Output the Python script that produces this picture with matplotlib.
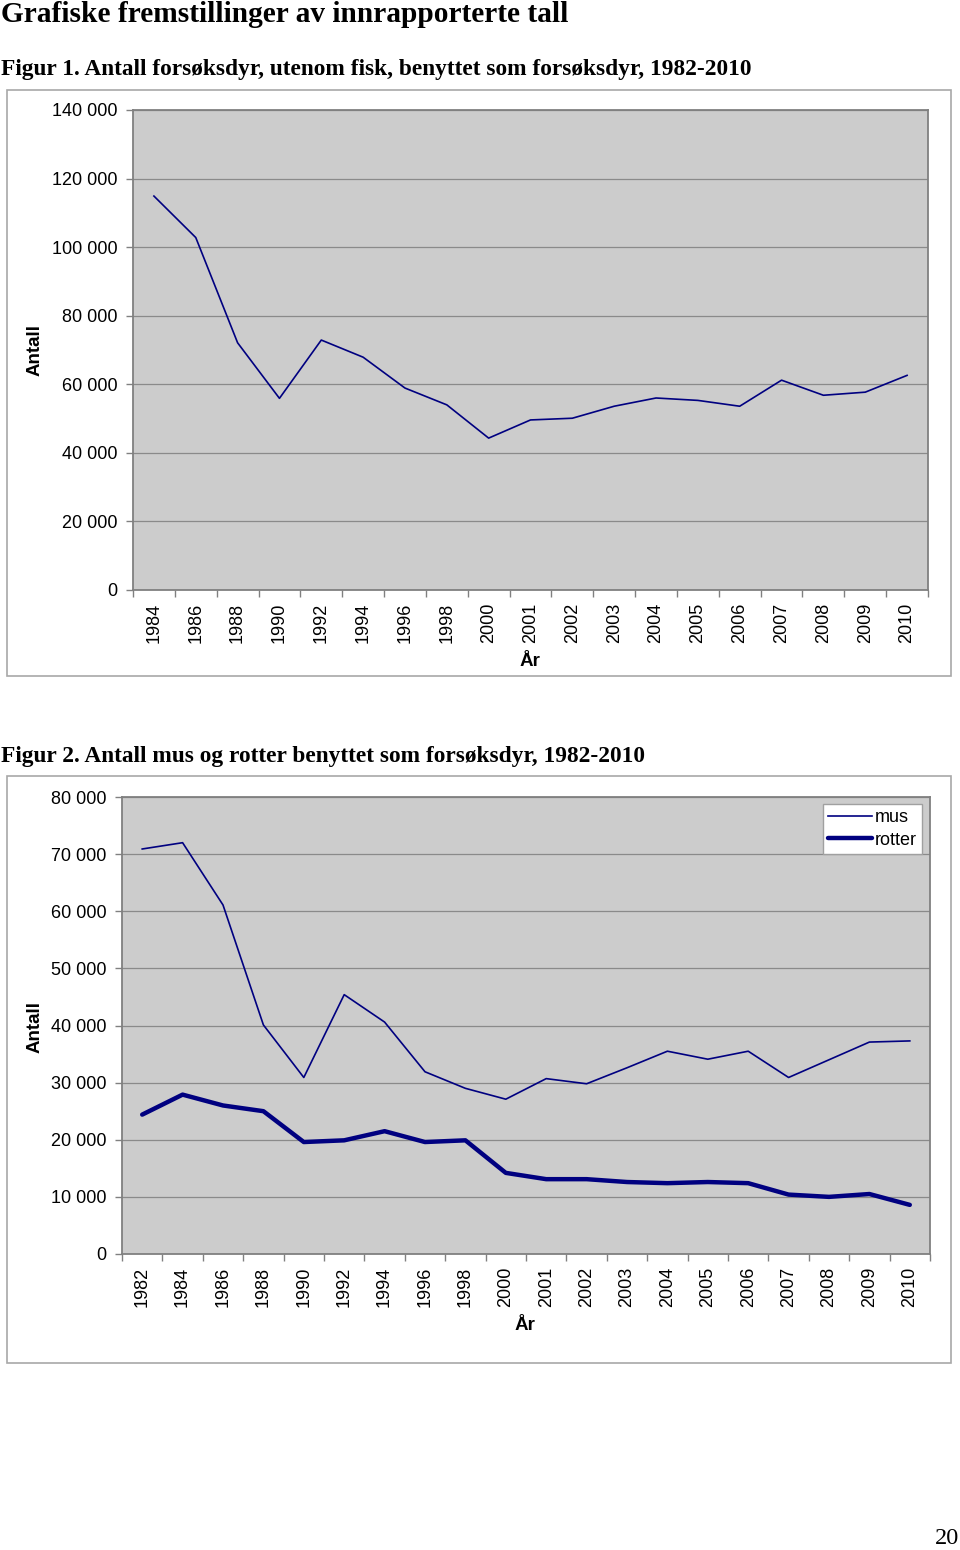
import matplotlib
matplotlib.use("Agg")
import matplotlib.pyplot as plt  # noqa: E402
from matplotlib.patches import Rectangle  # noqa: E402

W, H = 960, 1550
NAVY = "#000080"
PLOT_BG = "#cccccc"
AXIS = "#808080"
GRID = "#8a8a8a"
SANS = ["Liberation Sans", "DejaVu Sans"]
SERIF = ["Liberation Serif", "DejaVu Serif"]

# Figur 1: alle forsøksdyr utenom fisk
years_1 = ["1984", "1986", "1988", "1990", "1992", "1994", "1996", "1998",
           "2000", "2001", "2002", "2003", "2004", "2005", "2006", "2007",
           "2008", "2009", "2010"]
total = [114900, 102800, 72100, 55900, 72900, 67900, 58900, 54000,
         44300, 49600, 50100, 53600, 56000, 55300, 53600, 61200,
         56800, 57700, 62600]

# Figur 2: mus og rotter
years_2 = ["1982"] + years_1
mus = [70900, 72000, 61100, 40100, 30900, 45400, 40600, 31900, 29000,
       27100, 30700, 29800, 32600, 35500, 34100, 35500, 30900, 34000,
       37100, 37300]
rotter = [24400, 27900, 26000, 25000, 19600, 19900, 21500, 19600, 19900,
          14200, 13100, 13100, 12600, 12400, 12600, 12400, 10400, 10000,
          10500, 8600]


def px_axes(fig, x0, y0, x1, y1):
    return fig.add_axes([x0 / W, 1 - y1 / H, (x1 - x0) / W, (y1 - y0) / H])


def frame(fig, x0, y0, x1, y1):
    fig.patches.append(Rectangle((x0 / W, 1 - y1 / H), (x1 - x0) / W,
                                 (y1 - y0) / H, transform=fig.transFigure,
                                 fill=False, ec="#a8a8a8", lw=1.2))


def style(ax, cats, ymax, step):
    ax.set_facecolor(PLOT_BG)
    ax.set_xlim(-0.5, len(cats) - 0.5)
    ax.set_ylim(0, ymax)
    ticks = list(range(0, ymax + 1, step))
    ax.set_yticks(ticks)
    ax.set_yticklabels([f"{t:,}".replace(",", " ") for t in ticks],
                       family=SANS, fontsize=13)
    ax.yaxis.grid(True, color=GRID, lw=0.9)
    ax.set_axisbelow(True)
    # Excel-stil: tick-streker mellom kategoriene, etiketter midt i
    ax.set_xticks([i - 0.5 for i in range(len(cats) + 1)])
    ax.set_xticklabels([])
    ax.set_xticks(range(len(cats)), minor=True)
    ax.set_xticklabels(cats, minor=True, rotation=90, family=SANS,
                       fontsize=13)
    ax.tick_params(axis="x", which="major", length=5, color=AXIS, width=1)
    ax.tick_params(axis="x", which="minor", length=0, pad=9)
    ax.tick_params(axis="y", length=5, color=AXIS, width=1, pad=6)
    for sp in ax.spines.values():
        sp.set_color(AXIS)
        sp.set_linewidth(1.3)


fig = plt.figure(figsize=(W / 100, H / 100), dpi=100)

fig.text(1 / W, 1 - 15 / H, "Grafiske fremstillinger av innrapporterte tall",
         family=SERIF, fontsize=21.2, fontweight="bold", va="center")
fig.text(1 / W, 1 - 70 / H,
         "Figur 1. Antall forsøksdyr, utenom fisk, benyttet som forsøksdyr, 1982-2010",
         family=SERIF, fontsize=16.8, fontweight="bold", va="center")
fig.text(1 / W, 1 - 756 / H,
         "Figur 2. Antall mus og rotter benyttet som forsøksdyr, 1982-2010",
         family=SERIF, fontsize=16.8, fontweight="bold", va="center")
fig.text(959 / W, 1 - 1539 / H, "20", family=SERIF, fontsize=17.5,
         ha="right", va="center")

# --- Figur 1
frame(fig, 7, 90, 951, 676)
ax1 = px_axes(fig, 133, 110, 928, 590)
style(ax1, years_1, 140000, 20000)
ax1.plot(range(len(years_1)), total, color=NAVY, lw=1.2)
fig.text(35 / W, 1 - 350 / H, "Antall", rotation=90, family=SANS,
         fontsize=13.5, fontweight="bold", ha="center", va="center")
fig.text(530 / W, 1 - 662 / H, "År", family=SANS, fontsize=13.5,
         fontweight="bold", ha="center", va="center")

# --- Figur 2
frame(fig, 7, 776, 951, 1363)
ax2 = px_axes(fig, 122, 797, 930, 1254)
style(ax2, years_2, 80000, 10000)
ax2.plot(range(len(years_2)), mus, color=NAVY, lw=1.2, label="mus")
ax2.plot(range(len(years_2)), rotter, color=NAVY, lw=3.2, label="rotter",
         solid_capstyle="round")
leg = ax2.legend(loc="upper right", bbox_to_anchor=(0.99, 0.985),
                 prop={"family": SANS, "size": 13}, frameon=True,
                 fancybox=False, framealpha=1, edgecolor="#a0a0a0",
                 handlelength=2.4, handletextpad=0.15, labelspacing=0.3,
                 borderpad=0.3, borderaxespad=0)
leg.get_frame().set_linewidth(1)
fig.text(35 / W, 1 - 1027 / H, "Antall", rotation=90, family=SANS,
         fontsize=13.5, fontweight="bold", ha="center", va="center")
fig.text(525 / W, 1 - 1326 / H, "År", family=SANS, fontsize=13.5,
         fontweight="bold", ha="center", va="center")

fig.savefig("out.png", dpi=100, facecolor="white")
